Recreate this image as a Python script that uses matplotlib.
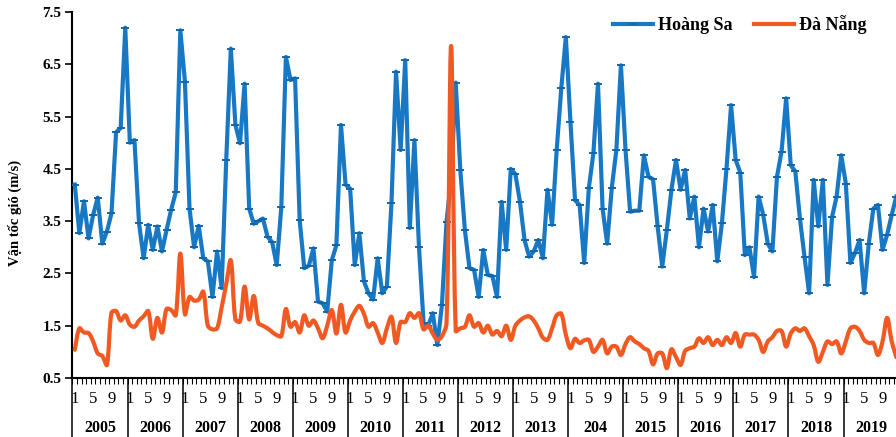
import numpy as np
import matplotlib
matplotlib.use('Agg')
import matplotlib.pyplot as plt
import matplotlib.transforms as mtransforms
from matplotlib.path import Path
from matplotlib.patches import PathPatch
from matplotlib.lines import Line2D

plt.rcParams['font.family'] = ['Liberation Serif', 'DejaVu Serif']

# Monthly mean wind speed (m/s), Jan 2005 - Dec 2019
years = ['2005', '2006', '2007', '2008', '2009', '2010', '2011', '2012',
         '2013', '204', '2015', '2016', '2017', '2018', '2019']
month_labels = ['1', '5', '9']
month_label_idx = [0, 4, 8]

hoang_sa = [
    4.2, 3.27, 3.88, 3.17, 3.62, 3.95, 3.07, 3.3, 3.65, 5.2, 5.28, 7.2,
    5.0, 5.05, 3.46, 2.79, 3.43, 2.95, 3.4, 2.92, 3.33, 3.72, 4.05, 7.15,
    6.17, 3.74, 3.0, 3.41, 2.79, 2.73, 2.05, 2.92, 2.22, 4.67, 6.8, 5.34,
    4.99, 6.13, 3.74, 3.45, 3.5, 3.55, 3.2, 3.1, 2.66, 3.77, 6.64, 6.2,
    6.23, 3.52, 2.6, 2.65, 2.98, 1.96, 1.93, 1.77, 2.75, 3.04, 5.34, 4.2,
    4.12, 2.66, 3.27, 2.35, 2.12, 2.0, 2.79, 2.12, 2.25, 3.84, 6.36, 4.86,
    6.58, 3.37, 5.05, 3.0, 1.55, 1.5, 1.74, 1.13, 1.9, 3.49, 4.3, 6.15,
    4.48, 3.33, 2.6, 2.57, 2.05, 2.95, 2.47, 2.45, 2.05, 3.87, 2.95, 4.5,
    4.4, 3.87, 3.14, 2.82, 2.92, 3.14, 2.79, 4.1, 3.43, 4.86, 6.04, 7.02,
    5.4, 3.9, 3.81, 2.7, 4.13, 4.8, 6.13, 3.74, 3.07, 4.13, 4.86, 6.48,
    4.86, 3.68, 3.7, 3.7, 4.76, 4.35, 4.3, 3.4, 2.63, 3.33, 4.1, 4.67,
    4.1, 4.48, 3.55, 3.97, 3.0, 3.74, 3.3, 3.81, 2.73, 3.46, 4.5, 5.72,
    4.67, 4.43, 2.85, 3.0, 2.43, 3.97, 3.62, 3.07, 2.92, 4.35, 4.83, 5.85,
    4.57, 4.45, 3.55, 2.82, 2.12, 4.29, 3.4, 4.29, 2.28, 3.58, 3.97, 4.76,
    4.22, 2.7, 2.89, 3.14, 2.12, 3.07, 3.74, 3.81, 2.95, 3.24, 3.62, 3.97,
]

da_nang = [
    1.04, 1.45, 1.37, 1.36, 1.2, 0.97, 0.92, 0.75, 1.75, 1.78, 1.6, 1.7,
    1.52, 1.48, 1.6, 1.68, 1.78, 1.25, 1.65, 1.37, 1.82, 1.8, 1.7, 2.88,
    1.72, 2.05, 1.98, 2.0, 2.15, 1.5, 1.43, 1.45, 1.85, 2.3, 2.75, 1.62,
    1.58, 2.25, 1.62, 2.07, 1.55, 1.5, 1.45, 1.38, 1.32, 1.3, 1.82, 1.48,
    1.57, 1.37, 1.7, 1.5, 1.6, 1.45, 1.26, 1.5, 1.8, 1.35, 1.9, 1.37,
    1.6, 1.77, 1.88, 1.73, 1.48, 1.55, 1.37, 1.17, 1.45, 1.67, 1.17, 1.57,
    1.57, 1.74, 1.65, 1.74, 1.43, 1.5, 1.35, 1.23, 1.3, 1.55, 6.85, 1.4,
    1.45, 1.48, 1.7, 1.48, 1.55, 1.37, 1.5, 1.33, 1.4, 1.3, 1.5, 1.23,
    1.5, 1.6, 1.66, 1.68, 1.6, 1.45, 1.27, 1.23, 1.45, 1.7, 1.73, 1.33,
    1.07, 1.25, 1.17, 1.22, 1.23, 1.0, 1.1, 1.23, 0.97, 1.1, 1.1, 0.94,
    1.15, 1.28, 1.2, 1.15, 1.07, 1.02, 0.76, 0.97, 0.97, 0.69, 1.05, 0.9,
    0.75, 1.02, 1.07, 1.1, 1.26, 1.17, 1.28, 1.13, 1.23, 1.13, 1.28, 1.17,
    1.36, 1.1, 1.33, 1.33, 1.33, 1.23, 1.0, 1.2, 1.28, 1.4, 1.4, 1.1,
    1.35, 1.45, 1.4, 1.45, 1.3, 1.13, 0.81, 1.0, 1.2, 1.15, 1.2, 0.97,
    1.2, 1.45, 1.48, 1.4, 1.23, 1.17, 1.17, 0.94, 1.2, 1.65, 1.2, 0.9,
]

BLUE = '#1878C4'
ORANGE = '#F05A22'


def smooth_path(xs, ys, xscale=4.59, yscale=52.3):
    # Bezier segments whose tangents are weighted by neighbouring
    # segment lengths (on screen), which keeps overshoot small at spikes
    pts = np.column_stack([xs, ys]).astype(float)
    ext = np.vstack([pts[0], pts, pts[-1]])
    scr = ext * np.array([xscale, yscale])
    seg = np.hypot(*np.diff(scr, axis=0).T)
    verts = [pts[0]]
    codes = [Path.MOVETO]
    for k in range(len(pts) - 1):
        p0, p1, p2, p3 = ext[k], ext[k + 1], ext[k + 2], ext[k + 3]
        d01, d12, d23 = seg[k], seg[k + 1], seg[k + 2]
        w1 = d12 / (d01 + d12) if d01 + d12 > 0 else 0.5
        w2 = d12 / (d12 + d23) if d12 + d23 > 0 else 0.5
        c1 = p1 + (p2 - p0) * w1 / 3.0
        c2 = p2 - (p3 - p1) * w2 / 3.0
        verts += [c1, c2, p2]
        codes += [Path.CURVE4] * 3
    return Path(verts, codes)


x = np.arange(len(hoang_sa))

fig = plt.figure(figsize=(8.96, 4.37), dpi=100)
ax = fig.add_axes([0.0809, 0.135, 0.922, 0.8375])

ax.plot(x, hoang_sa, color=BLUE, lw=3.0, marker='_', ms=6, mew=1.4,
        mec='#1466AA', zorder=3, solid_joinstyle='round')
ax.add_patch(PathPatch(smooth_path(x, da_nang), fill=False, edgecolor=ORANGE,
                       lw=3.0, zorder=4, capstyle='round', joinstyle='round'))

ax.set_xlim(-0.5, len(hoang_sa) - 0.5)
ax.set_ylim(0.5, 7.5)
ax.set_yticks(np.arange(0.5, 7.6, 1.0))
ax.set_yticklabels([f'{v:.1f}' for v in np.arange(0.5, 7.6, 1.0)],
                   fontsize=11, fontweight='bold')
ax.tick_params(axis='y', direction='out', length=5, width=1.2, pad=3)

ax.set_xticks([])
ax.set_xticks(np.arange(-0.5, len(hoang_sa), 1.0), minor=True)
ax.tick_params(axis='x', which='minor', direction='out', length=4, width=0.8)

for side in ['top', 'right']:
    ax.spines[side].set_visible(False)
for side in ['left', 'bottom']:
    ax.spines[side].set_linewidth(1.5)
    ax.spines[side].set_color('black')

# two-level category axis: months and years
trans = mtransforms.blended_transform_factory(ax.transData, ax.transAxes)
for k, yr in enumerate(years):
    start = 12 * k
    for lab, idx in zip(month_labels, month_label_idx):
        ax.text(start + idx, -0.058, lab, transform=trans, ha='center',
                va='center', fontsize=12, clip_on=False)
    ax.text(start + 5.5, -0.137, yr, transform=trans, ha='center',
            va='center', fontsize=11.5, fontweight='bold', clip_on=False)
    ax.plot([start - 0.5, start - 0.5], [0, -0.2], transform=trans,
            color='black', lw=1.1, clip_on=False)
ax.plot([len(hoang_sa) - 0.5] * 2, [0, -0.2], transform=trans,
        color='black', lw=1.1, clip_on=False)

fig.text(15 / 896, 1 - 213 / 437, 'Vận tốc gió (m/s)', rotation=90,
         ha='center', va='center', fontsize=10.5, fontweight='bold')

handles = [Line2D([], [], color=BLUE, lw=3.0, marker='_', ms=6, mew=1.4,
                  mec='#1466AA'),
           Line2D([], [], color=ORANGE, lw=3.0)]
ax.legend(handles, ['Hoàng Sa', 'Đà Nẵng'], loc='center left',
          bbox_to_anchor=(613 / 896, 1 - 25 / 437),
          bbox_transform=fig.transFigure, ncol=2, frameon=False,
          borderpad=0, borderaxespad=0, handlelength=2.2, handletextpad=0.3,
          columnspacing=1.2, markerfirst=True,
          prop={'size': 13, 'weight': 'bold'})

fig.savefig('out.png', dpi=100)
